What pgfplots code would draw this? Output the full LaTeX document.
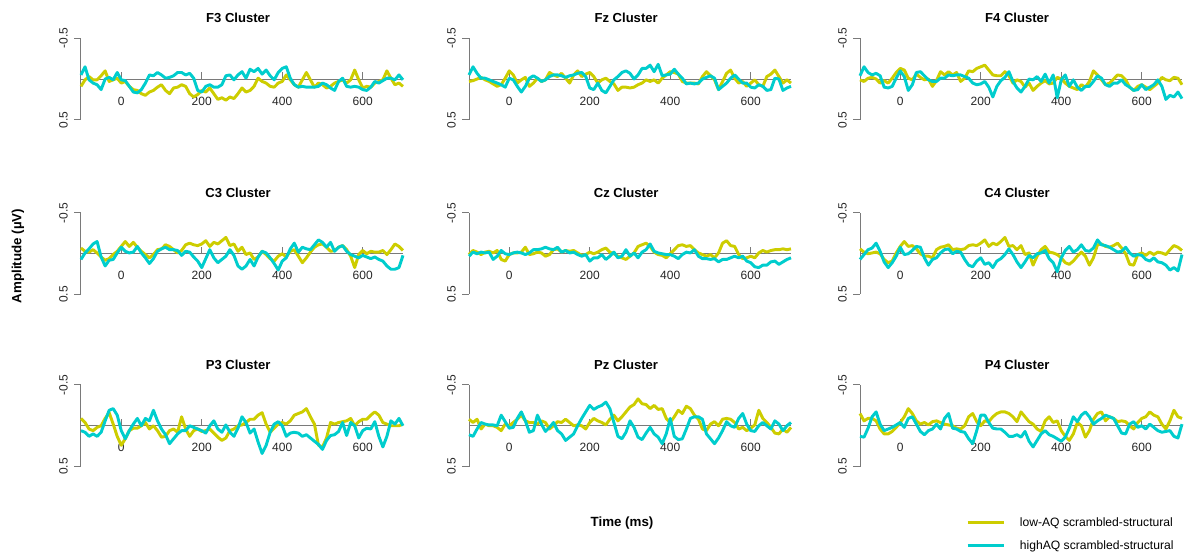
\documentclass[border=0pt]{standalone}
\usepackage{fontspec}
\setmainfont{Liberation Sans}
\usepackage{pgfplots}
\usepackage{pgfplotstable}
\pgfplotsset{compat=1.18}
\definecolor{lowc}{HTML}{CDCD00}
\definecolor{highc}{HTML}{00CDCD}
\definecolor{axc}{HTML}{7A7A7A}

\pgfplotstableread{
t low high
-100 0.09 -0.05
-90 0.01 -0.15
-80 -0.03 0.01
-70 0.01 0.05
-60 0.01 0.07
-50 -0.04 0.13
-40 -0.10 0.00
-30 0.03 -0.02
-20 0.01 0.01
-10 -0.01 -0.08
0 0.05 0.01
10 0.03 0.02
20 0.09 0.09
30 0.13 0.16
40 0.14 0.17
50 0.18 0.13
60 0.20 0.05
70 0.16 -0.05
80 0.14 -0.04
90 0.10 -0.08
100 0.07 -0.05
110 0.14 -0.01
120 0.18 -0.02
130 0.11 -0.04
140 0.10 -0.08
150 0.07 -0.08
160 0.09 -0.05
170 0.18 -0.07
180 0.22 -0.01
190 0.19 0.14
200 0.14 0.16
210 0.16 0.09
220 0.11 0.07
230 0.18 0.10
240 0.25 0.10
250 0.23 0.07
260 0.26 -0.04
270 0.22 -0.05
280 0.24 0.01
290 0.18 -0.05
300 0.11 -0.09
310 0.16 -0.01
320 0.14 -0.12
330 0.09 -0.09
340 -0.01 -0.13
350 0.03 -0.06
360 0.05 -0.11
370 0.09 -0.04
380 0.10 0.01
390 0.05 -0.08
400 0.03 -0.13
410 -0.05 -0.15
420 0.01 -0.01
430 0.07 0.07
440 0.10 0.10
450 0.01 0.09
460 -0.08 0.10
470 0.01 0.10
480 0.10 0.10
490 0.05 0.09
500 0.07 0.05
510 0.11 0.07
520 0.09 0.11
530 0.05 0.14
540 0.03 0.03
550 0.01 -0.01
560 0.05 0.09
570 0.01 0.10
580 -0.11 0.09
590 0.01 0.10
600 0.11 0.13
610 0.09 0.14
620 0.10 0.10
630 0.05 0.03
640 0.03 0.05
650 0.01 0.02
660 -0.10 -0.01
670 -0.01 -0.01
680 0.07 0.01
690 0.05 -0.05
700 0.09 0.01
}\FThree

\pgfplotstableread{
t low high
-100 0.03 -0.05
-90 0.02 -0.15
-80 0.00 -0.07
-70 -0.02 -0.01
-60 0.01 -0.01
-50 0.03 0.01
-40 0.06 0.03
-30 0.09 0.05
-20 0.07 0.07
-10 -0.01 0.10
0 -0.10 -0.01
10 -0.05 0.01
20 0.05 0.09
30 0.01 0.16
40 -0.02 0.09
50 0.09 -0.01
60 0.05 -0.04
70 -0.01 -0.01
80 0.03 0.03
90 0.01 0.01
100 -0.08 -0.03
110 -0.05 -0.05
120 -0.03 -0.05
130 -0.07 -0.04
140 -0.01 -0.02
150 0.05 -0.04
160 -0.05 -0.05
170 -0.10 -0.07
180 -0.03 -0.08
190 -0.06 -0.03
200 -0.08 0.11
210 -0.03 0.13
220 0.05 0.05
230 0.01 0.14
240 -0.01 0.17
250 0.03 0.09
260 0.06 0.01
270 0.14 -0.03
280 0.10 -0.08
290 0.10 -0.10
300 0.11 -0.07
310 0.10 0.00
320 0.07 -0.05
330 0.05 -0.13
340 0.01 -0.13
350 0.03 -0.17
360 0.01 -0.09
370 0.05 -0.18
380 -0.01 -0.04
390 -0.05 -0.05
400 -0.09 -0.06
410 -0.08 -0.12
420 -0.06 -0.06
430 0.03 -0.01
440 0.05 0.06
450 0.05 0.05
460 0.05 0.06
470 0.06 0.05
480 -0.03 0.00
490 -0.09 -0.02
500 -0.04 -0.04
510 0.01 -0.01
520 0.13 0.13
530 0.03 0.09
540 -0.07 0.05
550 -0.11 -0.01
560 -0.01 -0.05
570 0.05 0.00
580 0.03 0.05
590 0.09 0.05
600 0.05 0.10
610 0.01 0.11
620 0.07 0.07
630 0.09 0.09
640 -0.03 0.14
650 -0.06 0.13
660 -0.11 -0.01
670 -0.03 0.00
680 0.05 0.14
690 0.01 0.11
700 0.05 0.09
}\Fz

\pgfplotstableread{
t low high
-100 0.01 -0.04
-90 0.03 -0.15
-80 -0.01 -0.08
-70 -0.02 -0.05
-60 0.00 -0.07
-50 0.05 -0.04
-40 0.02 0.10
-30 0.05 0.11
-20 -0.01 0.09
-10 -0.08 -0.01
0 -0.13 -0.10
10 -0.11 -0.03
20 -0.01 0.14
30 0.01 0.07
40 -0.06 -0.08
50 -0.02 -0.09
60 0.01 -0.04
70 0.00 0.01
80 0.09 0.03
90 0.02 0.03
100 -0.09 -0.01
110 -0.05 -0.01
120 -0.09 -0.05
130 -0.05 -0.04
140 -0.08 -0.05
150 0.03 -0.05
160 -0.01 -0.03
170 -0.10 -0.01
180 -0.09 0.05
190 -0.13 0.07
200 -0.15 0.06
210 -0.17 0.03
220 -0.11 0.10
230 -0.05 0.22
240 -0.04 0.09
250 -0.04 0.02
260 -0.09 -0.02
270 -0.04 -0.09
280 0.05 0.03
290 0.01 0.11
300 0.03 0.16
310 0.10 0.09
320 0.05 0.00
330 0.14 0.01
340 0.09 -0.03
350 0.05 0.03
360 0.02 -0.06
370 0.06 0.05
380 0.05 -0.05
390 -0.02 0.23
400 0.00 0.01
410 0.05 -0.05
420 0.09 0.09
430 0.11 0.01
440 0.13 0.10
450 0.07 0.14
460 0.10 0.09
470 0.03 0.09
480 -0.10 0.03
490 -0.05 -0.04
500 0.01 -0.01
510 0.07 0.07
520 0.05 0.09
530 0.00 0.05
540 -0.05 0.05
550 -0.04 0.01
560 0.01 0.07
570 0.10 0.10
580 0.14 0.14
590 0.09 0.13
600 0.07 0.07
610 0.10 0.13
620 0.13 0.10
630 0.09 0.07
640 0.05 0.01
650 -0.02 0.09
660 0.01 0.25
670 0.02 0.20
680 -0.02 0.22
690 -0.01 0.16
700 0.07 0.24
}\FFour

\pgfplotstableread{
t low high
-100 -0.07 0.07
-90 -0.03 -0.01
-80 -0.02 -0.06
-70 -0.05 -0.12
-60 -0.01 -0.15
-50 0.04 0.04
-40 0.08 0.15
-30 0.06 0.08
-20 0.01 0.07
-10 -0.03 -0.01
0 -0.09 -0.08
10 -0.15 -0.03
20 -0.09 -0.01
30 -0.14 -0.02
40 -0.08 -0.09
50 -0.03 -0.01
60 0.01 0.05
70 0.05 0.12
80 0.01 0.06
90 -0.05 -0.03
100 -0.06 -0.06
110 -0.11 -0.08
120 -0.09 -0.05
130 -0.05 -0.05
140 -0.01 -0.04
150 -0.04 0.02
160 -0.11 -0.03
170 -0.13 -0.02
180 -0.11 0.04
190 -0.10 0.09
200 -0.12 0.17
210 -0.16 0.06
220 -0.09 -0.05
230 -0.14 0.05
240 -0.12 0.11
250 -0.16 0.07
260 -0.20 0.03
270 -0.10 -0.05
280 -0.12 0.02
290 -0.03 0.15
300 -0.08 0.19
310 0.01 0.15
320 -0.01 0.07
330 0.07 0.15
340 0.04 0.04
350 -0.03 -0.03
360 0.01 -0.01
370 0.06 0.05
380 0.09 0.12
390 0.03 0.20
400 0.00 0.09
410 0.04 0.05
420 -0.03 -0.06
430 -0.05 -0.13
440 0.03 -0.02
450 0.11 -0.08
460 0.05 -0.06
470 -0.02 -0.05
480 -0.08 -0.11
490 -0.11 -0.17
500 -0.12 -0.14
510 -0.08 -0.08
520 -0.03 -0.14
530 -0.04 -0.03
540 -0.08 -0.08
550 -0.10 -0.10
560 -0.05 -0.03
570 0.03 0.01
580 0.17 0.03
590 0.01 0.05
600 -0.04 0.02
610 0.00 0.04
620 -0.03 0.06
630 -0.02 0.04
640 -0.02 0.07
650 -0.04 0.09
660 0.01 0.15
670 -0.05 0.19
680 -0.12 0.19
690 -0.09 0.17
700 -0.04 0.02
}\CThree

\pgfplotstableread{
t low high
-100 0.01 0.03
-90 -0.04 -0.02
-80 -0.02 0.00
-70 0.01 -0.02
-60 -0.02 -0.01
-50 -0.03 -0.02
-40 -0.01 0.07
-30 -0.04 0.03
-20 0.07 -0.04
-10 0.09 0.00
0 0.01 0.01
10 -0.01 -0.01
20 -0.01 -0.02
30 -0.02 -0.01
40 -0.08 0.01
50 0.01 -0.01
60 0.00 -0.05
70 -0.02 -0.05
80 -0.01 -0.06
90 0.03 -0.08
100 0.01 -0.06
110 -0.05 -0.05
120 -0.06 -0.08
130 -0.02 -0.02
140 -0.04 -0.04
150 -0.03 -0.01
160 -0.04 -0.02
170 -0.01 0.01
180 0.02 0.03
190 0.01 0.01
200 -0.02 0.09
210 0.00 0.05
220 -0.02 0.05
230 -0.05 0.01
240 -0.07 0.07
250 -0.02 0.03
260 0.00 -0.02
270 0.03 0.05
280 0.05 0.03
290 0.07 -0.05
300 0.03 0.03
310 -0.01 -0.01
320 -0.09 0.05
330 -0.11 -0.02
340 -0.13 -0.05
350 -0.09 -0.12
360 -0.02 -0.03
370 0.01 -0.01
380 0.02 0.00
390 0.05 0.01
400 0.00 0.01
410 -0.05 0.03
420 -0.10 0.06
430 -0.11 0.01
440 -0.09 -0.02
450 -0.10 -0.01
460 -0.05 -0.05
470 -0.01 0.03
480 0.01 0.06
490 0.03 0.06
500 0.01 0.07
510 0.05 0.06
520 -0.01 0.10
530 -0.13 0.07
540 -0.16 0.07
550 -0.10 0.05
560 -0.09 0.03
570 0.01 0.05
580 0.06 0.03
590 0.05 0.09
600 0.03 0.11
610 0.05 0.16
620 -0.01 0.17
630 -0.04 0.14
640 -0.02 0.14
650 -0.04 0.10
660 -0.05 0.09
670 -0.05 0.13
680 -0.06 0.10
690 -0.05 0.07
700 -0.06 0.05
}\Cz

\pgfplotstableread{
t low high
-100 -0.06 0.07
-90 -0.02 0.01
-80 0.00 -0.05
-70 -0.01 -0.07
-60 -0.02 -0.13
-50 0.00 -0.03
-40 0.07 0.10
-30 0.11 0.17
-20 0.09 0.11
-10 -0.01 0.03
0 -0.09 -0.08
10 -0.15 0.01
20 -0.09 0.00
30 -0.10 -0.04
40 -0.06 -0.09
50 0.00 -0.08
60 0.03 0.05
70 0.03 0.14
80 0.05 0.07
90 -0.05 0.05
100 -0.08 -0.01
110 -0.09 -0.05
120 -0.11 -0.06
130 -0.05 0.00
140 -0.06 -0.03
150 -0.05 -0.02
160 -0.06 0.07
170 -0.10 0.14
180 -0.11 0.16
190 -0.10 0.09
200 -0.13 0.05
210 -0.17 0.13
220 -0.09 0.11
230 -0.13 0.17
240 -0.11 0.09
250 -0.15 0.06
260 -0.20 0.01
270 -0.09 -0.06
280 -0.10 0.01
290 -0.05 0.10
300 -0.10 0.17
310 0.01 0.10
320 -0.01 0.02
330 0.14 0.05
340 0.03 0.00
350 -0.05 -0.01
360 -0.09 -0.04
370 -0.02 0.06
380 -0.01 0.11
390 0.01 0.22
400 0.05 0.05
410 0.11 -0.04
420 0.13 -0.09
430 0.09 -0.02
440 0.03 -0.05
450 -0.02 -0.11
460 0.03 -0.04
470 0.14 -0.03
480 0.05 -0.07
490 -0.11 -0.17
500 -0.12 -0.11
510 -0.09 -0.10
520 -0.08 -0.08
530 -0.10 -0.05
540 -0.13 -0.02
550 -0.07 -0.03
560 0.00 -0.08
570 0.13 -0.01
580 0.14 0.03
590 0.01 0.01
600 -0.01 0.02
610 0.02 0.07
620 -0.02 0.09
630 0.01 0.05
640 -0.02 0.10
650 -0.01 0.11
660 0.01 0.14
670 -0.05 0.20
680 -0.10 0.17
690 -0.08 0.21
700 -0.04 0.01
}\CFour

\pgfplotstableread{
t low high
-100 -0.09 0.06
-90 -0.04 0.08
-80 0.04 0.13
-70 0.06 0.10
-60 0.02 0.13
-50 0.00 0.08
-40 -0.09 -0.06
-30 -0.16 -0.19
-20 -0.02 -0.21
-10 0.13 -0.13
0 0.24 0.06
10 0.16 0.16
20 0.06 0.06
30 0.03 -0.02
40 0.03 -0.09
50 0.00 0.00
60 -0.04 -0.09
70 0.04 -0.06
80 0.00 -0.19
90 0.06 -0.06
100 0.14 0.04
110 0.13 0.11
120 0.06 0.22
130 0.04 0.16
140 0.08 0.10
150 -0.11 0.06
160 0.04 0.06
170 0.13 0.00
180 0.06 0.02
190 0.04 0.04
200 0.07 0.06
210 0.06 0.09
220 0.04 0.00
230 0.09 -0.06
240 0.14 0.04
250 0.18 0.08
260 0.15 -0.01
270 0.06 0.08
280 0.04 0.13
290 0.00 0.03
300 -0.01 -0.11
310 -0.04 -0.04
320 -0.08 0.09
330 -0.08 0.04
340 -0.13 0.20
350 -0.16 0.34
360 -0.02 0.24
370 0.08 0.08
380 0.03 -0.02
390 -0.02 -0.05
400 -0.04 0.00
410 -0.02 0.13
420 -0.06 0.09
430 -0.13 0.08
440 -0.15 0.09
450 -0.17 0.13
460 -0.21 0.11
470 -0.11 0.15
480 -0.02 0.19
490 0.24 0.23
500 0.26 0.29
510 0.15 0.18
520 -0.04 0.12
530 -0.02 0.11
540 -0.04 0.07
550 -0.05 -0.04
560 -0.06 0.12
570 -0.09 -0.04
580 0.00 0.00
590 -0.05 0.15
600 -0.08 0.06
610 -0.08 0.03
620 -0.13 0.04
630 -0.17 -0.05
640 -0.13 0.13
650 -0.04 0.26
660 -0.02 0.13
670 0.00 -0.06
680 0.00 -0.02
690 0.00 -0.09
700 -0.02 0.00
}\PThree

\pgfplotstableread{
t low high
-100 -0.08 0.11
-90 -0.04 0.13
-80 -0.08 0.04
-70 0.04 -0.04
-60 -0.02 -0.02
-50 0.00 -0.01
-40 0.00 -0.01
-30 0.02 0.00
-20 0.06 -0.13
-10 -0.02 -0.05
0 0.00 0.03
10 -0.04 0.02
20 -0.08 -0.09
30 -0.13 -0.17
40 -0.06 -0.06
50 -0.04 0.08
60 -0.04 0.06
70 -0.02 -0.13
80 -0.06 -0.02
90 -0.04 0.07
100 0.04 0.02
110 0.00 -0.04
120 -0.05 0.06
130 -0.04 0.10
140 -0.08 0.18
150 -0.04 0.14
160 0.00 0.10
170 -0.01 0.00
180 0.00 -0.09
190 0.04 -0.17
200 -0.04 -0.25
210 -0.09 -0.20
220 -0.06 -0.23
230 -0.04 -0.25
240 -0.01 -0.29
250 -0.08 -0.21
260 -0.13 -0.04
270 -0.06 0.13
280 -0.11 0.16
290 -0.17 0.08
300 -0.23 -0.06
310 -0.26 0.02
320 -0.33 0.14
330 -0.27 0.17
340 -0.26 0.09
350 -0.21 0.02
360 -0.25 0.10
370 -0.20 0.14
380 -0.21 0.22
390 -0.09 0.10
400 -0.04 -0.09
410 -0.11 0.13
420 -0.19 0.17
430 -0.15 0.16
440 -0.24 0.04
450 -0.21 -0.09
460 -0.13 -0.11
470 -0.08 -0.11
480 0.04 -0.08
490 0.06 0.10
500 -0.02 0.16
510 -0.05 0.22
520 0.00 0.15
530 -0.08 0.06
540 -0.09 -0.05
550 -0.08 0.00
560 -0.04 0.02
570 0.04 -0.09
580 0.02 -0.15
590 0.06 -0.02
600 0.03 0.06
610 -0.01 0.07
620 -0.19 0.00
630 -0.09 -0.04
640 -0.04 0.00
650 0.02 0.04
660 0.09 -0.06
670 0.10 -0.02
680 0.04 0.06
690 0.08 0.00
700 0.02 -0.04
}\Pz

\pgfplotstableread{
t low high
-100 -0.15 0.13
-90 -0.06 0.14
-80 -0.09 0.03
-70 -0.09 -0.11
-60 -0.06 -0.17
-50 0.04 -0.02
-40 0.10 0.06
-30 0.10 0.04
-20 0.07 0.02
-10 0.02 -0.01
0 -0.04 -0.04
10 -0.11 0.02
20 -0.21 -0.09
30 -0.15 -0.11
40 -0.06 -0.02
50 -0.02 0.07
60 -0.04 0.11
70 -0.01 0.06
80 -0.05 0.04
90 -0.06 -0.02
100 -0.04 0.04
110 -0.02 -0.09
120 -0.01 -0.15
130 0.00 0.03
140 0.03 0.04
150 0.04 0.07
160 0.00 0.08
170 -0.11 0.16
180 -0.15 0.22
190 -0.05 0.06
200 0.00 -0.13
210 -0.06 -0.13
220 -0.05 -0.04
230 -0.11 0.03
240 -0.15 0.04
250 -0.17 0.04
260 -0.17 0.08
270 -0.15 0.13
280 -0.11 0.13
290 -0.05 0.11
300 -0.17 0.14
310 -0.11 0.07
320 -0.05 0.19
330 -0.02 0.26
340 0.04 0.18
350 0.07 0.10
360 -0.06 0.06
370 -0.11 0.11
380 -0.04 0.13
390 -0.06 0.16
400 0.06 0.19
410 0.13 0.14
420 0.18 0.03
430 0.10 -0.11
440 -0.04 -0.05
450 0.00 -0.13
460 0.14 -0.17
470 0.06 -0.11
480 -0.08 -0.02
490 -0.15 -0.06
500 -0.17 -0.09
510 -0.06 -0.13
520 -0.11 -0.11
530 -0.09 -0.09
540 -0.05 0.00
550 -0.06 0.09
560 -0.05 0.10
570 0.00 -0.02
580 0.04 -0.05
590 -0.04 0.02
600 -0.09 0.00
610 -0.11 0.04
620 -0.17 -0.02
630 -0.13 0.02
640 -0.11 0.06
650 -0.02 0.08
660 0.04 0.07
670 -0.06 0.06
680 -0.19 0.13
690 -0.11 0.15
700 -0.09 -0.02
}\PFour

\pgfplotsset{
  erp/.style={
    scale only axis, width=241.5pt, height=61.125pt,
    anchor=north west,
    xmin=-100, xmax=700, ymin=-0.5, ymax=0.5, y dir=reverse,
    axis x line=middle, axis y line=left,
    axis line style={-, draw=axc, line width=0.75pt},
    every inner x axis line/.append style={-},
    every outer y axis line/.append style={-},
    xtick={0,200,400,600}, xticklabels={0,200,400,600},
    ytick={-0.5,0.5}, yticklabels={-0.5,0.5},
    tick style={draw=axc, line width=0.75pt},
    major tick length=5pt,
    ytick align=outside, xtick align=outside,
    tick label style={font=\fontsize{9}{10}\selectfont, text=black!85},
    xticklabel style={anchor=north, yshift=-4.75pt},
    yticklabel style={xshift=-1.5pt, rotate=90, anchor=south},
    title style={at={(0.488,1)}, anchor=center, yshift=9.2pt,
      font=\bfseries\fontsize{9.8}{11}\selectfont},
    clip=false,
  },
  lowline/.style={lowc, line width=2.2pt, line join=round, mark=none},
  highline/.style={highc, line width=2.2pt, line join=round, mark=none},
}

\begin{document}
\begin{tikzpicture}
\useasboundingbox (0,0) rectangle (892.5pt,415.5pt);

\begin{axis}[erp, at={(60.75pt,386.8pt)}, title={F3 Cluster}]
\addplot[lowline] table[x=t,y=low]{\FThree};
\addplot[highline] table[x=t,y=high]{\FThree};
\end{axis}
\begin{axis}[erp, at={(351.75pt,386.8pt)}, title={Fz Cluster}]
\addplot[lowline] table[x=t,y=low]{\Fz};
\addplot[highline] table[x=t,y=high]{\Fz};
\end{axis}
\begin{axis}[erp, at={(645pt,386.8pt)}, title={F4 Cluster}]
\addplot[lowline] table[x=t,y=low]{\FFour};
\addplot[highline] table[x=t,y=high]{\FFour};
\end{axis}

\begin{axis}[erp, at={(60.75pt,255.75pt)}, title={C3 Cluster}]
\addplot[lowline] table[x=t,y=low]{\CThree};
\addplot[highline] table[x=t,y=high]{\CThree};
\end{axis}
\begin{axis}[erp, at={(351.75pt,255.75pt)}, title={Cz Cluster}]
\addplot[lowline] table[x=t,y=low]{\Cz};
\addplot[highline] table[x=t,y=high]{\Cz};
\end{axis}
\begin{axis}[erp, at={(645pt,255.75pt)}, title={C4 Cluster}]
\addplot[lowline] table[x=t,y=low]{\CFour};
\addplot[highline] table[x=t,y=high]{\CFour};
\end{axis}

\begin{axis}[erp, at={(60.75pt,126.75pt)}, title={P3 Cluster}]
\addplot[lowline] table[x=t,y=low]{\PThree};
\addplot[highline] table[x=t,y=high]{\PThree};
\end{axis}
\begin{axis}[erp, at={(351.75pt,126.75pt)}, title={Pz Cluster}]
\addplot[lowline] table[x=t,y=low]{\Pz};
\addplot[highline] table[x=t,y=high]{\Pz};
\end{axis}
\begin{axis}[erp, at={(645pt,126.75pt)}, title={P4 Cluster}]
\addplot[lowline] table[x=t,y=low]{\PFour};
\addplot[highline] table[x=t,y=high]{\PFour};
\end{axis}

\node[rotate=90, font=\bfseries\fontsize{10}{12}\selectfont] at (13.5pt,223.5pt) {Amplitude (µV)};
\node[font=\bfseries\fontsize{10}{12}\selectfont] at (466.5pt,23.25pt) {Time (ms)};

\begin{axis}[hide axis, scale only axis, width=10pt, height=10pt,
  xmin=0, xmax=1, ymin=0, ymax=1,
  at={(724.5pt,27.25pt)}, anchor=north west,
  legend style={at={(0,1)}, anchor=north west, draw=none, fill=none,
    inner sep=0pt, row sep=8.75pt, column sep=11pt,
    font=\fontsize{9.1}{10}\selectfont,
    nodes={inner sep=0pt, text height=6.5pt, text depth=2pt}},
  legend cell align=left,
  legend image code/.code={\draw[#1] (0pt,0.6pt) -- (27pt,0.6pt);}]
\addlegendimage{lowc, line width=2.2pt}
\addlegendentry{low-AQ scrambled-structural}
\addlegendimage{highc, line width=2.2pt}
\addlegendentry{highAQ scrambled-structural}
\end{axis}
\end{tikzpicture}
\end{document}
